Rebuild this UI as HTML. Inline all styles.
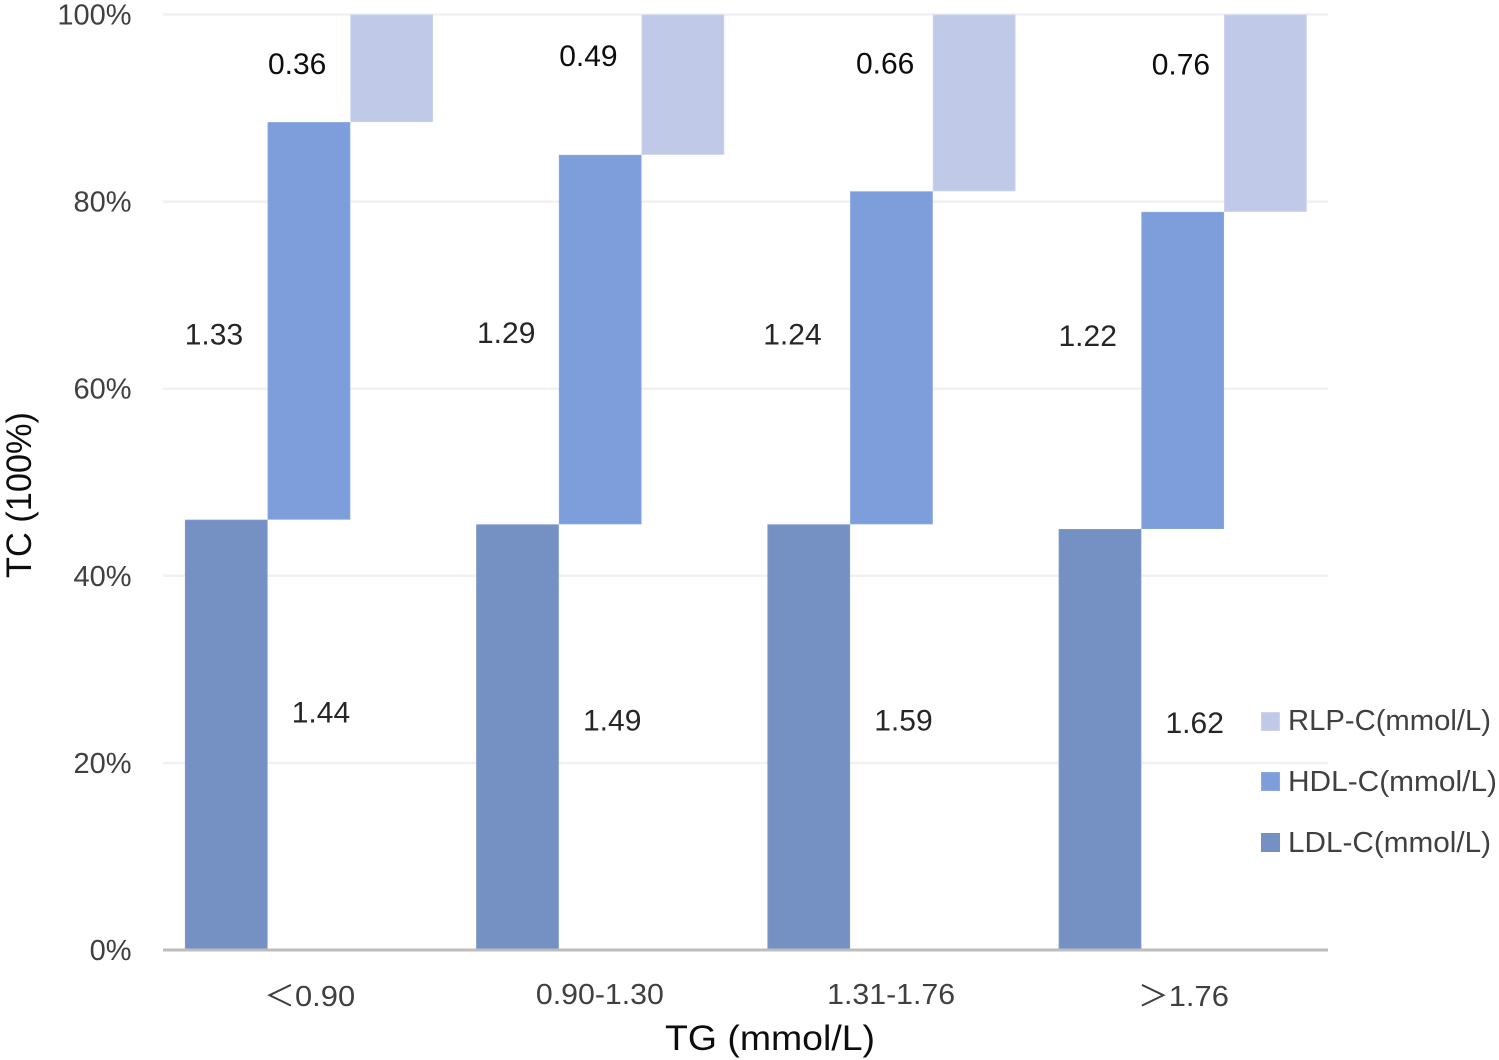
<!DOCTYPE html>
<html lang="en">
<head>
<meta charset="utf-8">
<title>TC composition by TG group</title>
<style>
html,body{margin:0;padding:0;background:#fff;}
svg{display:block;}
text{font-family:"Liberation Sans","Noto Sans CJK SC",sans-serif;}
</style>
</head>
<body>
<svg id="chart" xmlns="http://www.w3.org/2000/svg" width="1499" height="1060" viewBox="0 0 1499 1060">
  <rect x="0" y="0" width="1499" height="1060" fill="#ffffff"/>
  <g id="grid"></g>
  <g id="bars"></g>
  <g id="axis"></g>
  <g id="labels"></g>
  <text transform="translate(31,578) rotate(-90)" font-size="35" fill="#0d0d0d" textLength="166" lengthAdjust="spacingAndGlyphs">TC (100%)</text>
  <text x="665" y="1050" font-size="35" fill="#0d0d0d" textLength="210" lengthAdjust="spacingAndGlyphs">TG (mmol/L)</text>
  <g>
    <g>
      <rect x="1261.5" y="712.5" width="18" height="18" fill="#c0cae8" stroke="#cdd5ee" stroke-width="1"/>
      <text x="1288" y="730" font-size="29" fill="#404040" textLength="203" lengthAdjust="spacingAndGlyphs">RLP-C(mmol/L)</text>
    </g>
    <g>
      <rect x="1261.5" y="772.5" width="18" height="18" fill="#7e9edb" stroke="#8aa8e2" stroke-width="1"/>
      <text x="1288" y="791" font-size="29" fill="#404040" textLength="209" lengthAdjust="spacingAndGlyphs">HDL-C(mmol/L)</text>
    </g>
    <g>
      <rect x="1261.5" y="833.5" width="18" height="18" fill="#7590c2" stroke="#6f8fd0" stroke-width="1"/>
      <text x="1288" y="852" font-size="29" fill="#404040" textLength="203" lengthAdjust="spacingAndGlyphs">LDL-C(mmol/L)</text>
    </g>
  </g>
</svg>
<script>
// Chart data
const categories = ["\uFF1C0.90", "0.90-1.30", "1.31-1.76", "\uFF1E1.76"];
const yTickValues = [0, 20, 40, 60, 80, 100];
const ldlShare = [46.0, 45.5, 45.5, 45.0];
const hdlShare = [42.5, 39.5, 35.6, 33.9];
const rlpShare = [11.5, 15.0, 18.9, 21.1];
const ldlValues = ["1.44", "1.49", "1.59", "1.62"];
const hdlValues = ["1.33", "1.29", "1.24", "1.22"];
const rlpValues = ["0.36", "0.49", "0.66", "0.76"];

// Manual label offsets, as placed by hand in the original chart
const ldlLabelDy = [-23, -17, -17, -17];
const hdlLabelDy = [13, -7, -24, -35];
const rlpLabelDy = [-5, -29, -40, -49];
const hdlLabelDx = [-95, -94, -99, -95];
const rlpLabelDx = [-94.5, -94.5, -89, -84.5];

const NS = "http://www.w3.org/2000/svg";
const plot = {left: 163, right: 1328, top: 14.5, bottom: 950};
const band = (plot.right - plot.left) / categories.length;
const barW = 82.7;
const groupPad = 21.9;

function yScale(pct) {
  return plot.bottom - (pct / 100) * (plot.bottom - plot.top);
}
function xScale(catIndex, seriesIndex) {
  return plot.left + catIndex * band + groupPad + seriesIndex * barW;
}
function make(tag, attrs, parent) {
  const el = document.createElementNS(NS, tag);
  for (const k in attrs) el.setAttribute(k, attrs[k]);
  parent.appendChild(el);
  return el;
}

const gridG = document.getElementById("grid");
const barsG = document.getElementById("bars");
const axisG = document.getElementById("axis");
const labelsG = document.getElementById("labels");

yTickValues.forEach(function (t) {
  if (t !== 0) {
    const line = make("line", {x1: plot.left, x2: plot.right, y1: yScale(t), y2: yScale(t), stroke: "#f1f1f5", "stroke-width": 2.5}, gridG);
    
    
  }
  const tick = make("text", {x: 131.5, y: yScale(t) + 10, "text-anchor": "end", "font-size": 29, fill: "#404040"}, axisG);
  
  
  tick.textContent = t + "%";
});

const baseline = make("line", {x1: plot.left, x2: plot.right, y1: plot.bottom, y2: plot.bottom, stroke: "#bdbdbd", "stroke-width": 3}, axisG);



const fills = ["#7590c2", "#7e9edb", "#c0cae8"];
const edges = ["#7b98d2", "#86a5e0", "#c9d2ec"];
const seriesKeys = ["ldl", "hdl", "rlp"];
const seriesShares = [ldlShare, hdlShare, rlpShare];

categories.forEach(function (cat, i) {
  let cumulative = 0;
  const mids = [];
  seriesShares.forEach(function (share, s) {
    const y0 = yScale(cumulative);
    const y1 = yScale(cumulative + share[i]);
    mids.push((y0 + y1) / 2);
    const bar = make("rect", {x: xScale(i, s) + 0.5, y: y1 + 0.5, width: barW - 1, height: y0 - y1 - 1, fill: fills[s], stroke: edges[s], "stroke-width": 1}, barsG);
    
    
    cumulative += share[i];
  });

  const ldlLabel = make("text", {x: xScale(i, 1) + barW / 2 + 12, y: mids[0] + ldlLabelDy[i] + 10.5, "text-anchor": "middle", "font-size": 30, fill: "#262626"}, labelsG);
  
  
  ldlLabel.textContent = ldlValues[i];

  const hdlLabel = make("text", {x: xScale(i, 1) + barW / 2 + hdlLabelDx[i], y: mids[1] + hdlLabelDy[i] + 10.5, "text-anchor": "middle", "font-size": 30, fill: "#262626"}, labelsG);
  
  
  hdlLabel.textContent = hdlValues[i];

  const rlpLabel = make("text", {x: xScale(i, 2) + barW / 2 + rlpLabelDx[i], y: mids[2] + rlpLabelDy[i] + 10.5, "text-anchor": "middle", "font-size": 30, fill: "#0d0d0d"}, labelsG);
  
  
  rlpLabel.textContent = rlpValues[i];

  const wide = cat.charCodeAt(0) > 255;
  const catLabel = make("text", {x: plot.left + (i + 0.5) * band + (wide ? 1 : 0), y: wide ? 1006 : 1004, "text-anchor": "middle", "font-size": 29, fill: "#404040", textLength: wide ? 91 : 128, lengthAdjust: "spacingAndGlyphs"}, axisG);
  
  
  catLabel.textContent = cat;
});
</script>
</body>
</html>
